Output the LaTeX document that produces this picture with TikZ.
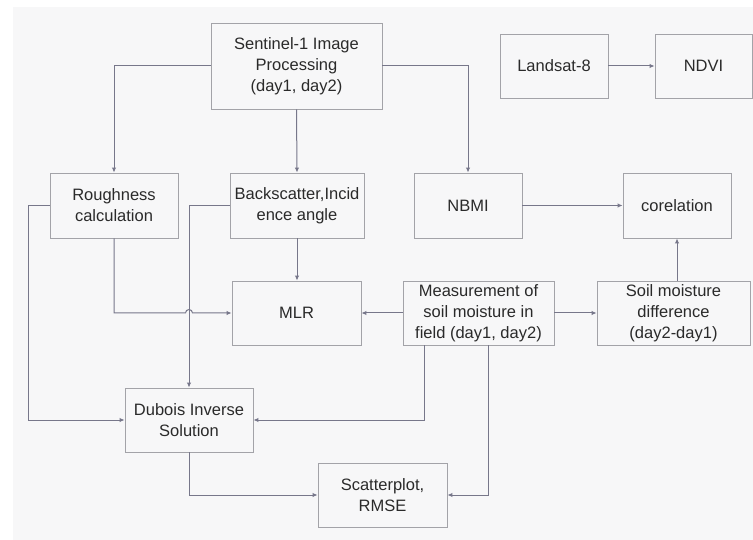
\documentclass[tikz,border=0pt]{standalone}
\usepackage{fontspec}
\setmainfont{Liberation Sans}
\usetikzlibrary{arrows.meta}
\usetikzlibrary{positioning}
\definecolor{linegray}{HTML}{77778A}
\definecolor{boxgray}{HTML}{A3A3A8}
\definecolor{txtgray}{HTML}{2A2A2A}
\definecolor{bggray}{HTML}{F7F7F8}

\begin{document}
\begin{tikzpicture}
  [x=1pt,y=-1pt,
  box/.style={rectangle,draw=boxgray,fill=bggray,line width=0.9pt,align=center,inner sep=0pt,
    text=txtgray,font=\fontsize{16.5}{21}\selectfont},
  link/.style={draw=linegray,line width=1pt,-{Latex[length=5pt,width=4.5pt]}}]
  \useasboundingbox (0,0) rectangle (753,540);
  \fill[bggray] (13,7) rectangle (753,540);

  \node[box,minimum width=171pt,minimum height=86pt] (11) at (296.5,66) {Sentinel-1 Image\\Processing\\(day1, day2)};
  \node[box,minimum width=108pt,minimum height=64pt] (12) at (554,66) {Landsat-8};
  \node[box,minimum width=97pt,minimum height=64pt] (13) at (703.5,66) {NDVI};

  \node[box,minimum width=128pt,minimum height=65pt] (21) at (114,205.5) {Roughness\\calculation};
  \node[box,minimum width=134pt,minimum height=65pt] (22) at (297,205.5) {Backscatter,Incid\\ence angle};
  \node[box,minimum width=108pt,minimum height=65pt] (23) at (468,205.5) {NBMI};
  \node[box,minimum width=108pt,minimum height=65pt] (24) at (677,205.5) {corelation};

  \node[box,minimum width=129pt,minimum height=64pt] (31) at (296.5,313) {MLR};
  \node[box,minimum width=151pt,minimum height=64pt] (32) at (478.5,313) {Measurement of\\soil moisture in\\field (day1, day2)};
  \node[box,minimum width=153pt,minimum height=64pt] (33) at (673.5,313) {Soil moisture\\difference\\(day2-day1)};

  \node[box,minimum width=128pt,minimum height=64pt] (41) at (189,420) {Dubois Inverse\\Solution};
  \node[box,minimum width=129pt,minimum height=64pt] (51) at (382.5,495) {Scatterplot,\\RMSE};

  \coordinate (hop) at (41.north |- 31.west);

  \draw[link] (11.west) -| (21.north);
  \draw[link] (11.south) -- (22.north);
  \draw[link] (11.east) -| (23.north);
  \draw[link] (12) -- (13);
  \draw[link] (23) -- (24);
  \draw[link] (24.south |- 33.north) -- (24.south);
  \draw[link] (32) -- (33);
  \draw[link] (32) -- (31);
  \draw[link] (22.south) -- (22.south |- 31.north);

  \draw[link] (21.south) |- ([xshift=-3.5pt]hop) arc[start angle=180,end angle=0,radius=3.5pt] -- (31.west);
  \draw[link] (22.west) -| (41.north);
  \draw[link] (21.west) -- ++(-21,0) |- (41.west);
  \draw[link] ([xshift=22pt]32.south west) |- (41.east);
  \draw[link] (41.south) |- (51.west);
  \draw[link] ([xshift=86pt]32.south west) |- (51.east);
\end{tikzpicture}
\end{document}
